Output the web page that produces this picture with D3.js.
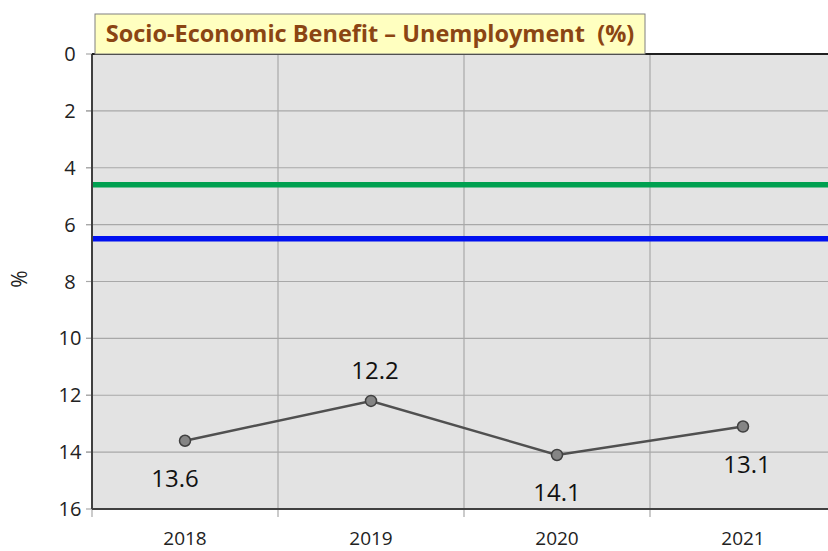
<!DOCTYPE html>
<html>
<head>
<meta charset="utf-8">
<script src="https://cdn.jsdelivr.net/npm/d3@7"></script>
<style>
  body { margin: 0; background: #fff; }
  text { font-family: "Open Sans", sans-serif; }
</style>
</head>
<body>
<div id="chart"></div>
<script>
// данные
const years = ['2018', '2019', '2020', '2021']
const unemployment = [13.6, 12.2, 14.1, 13.1]
const greenLevel = 4.6
const blueLevel = 6.5
const yTicks = [0, 2, 4, 6, 8, 10, 12, 14, 16]
// позиция подписи: ниже или выше точки
const labelPos = ['below', 'above', 'below', 'below']

const W = 828, H = 551
const mLeft = 92, mTop = 54, mBottom = 509, mRight = 836

let svg = d3.select('#chart').append('svg')
  .attr('width', W).attr('height', H)

let x = d3.scaleBand().domain(years).range([mLeft, mRight])
let y = d3.scaleLinear().domain([0, 16]).range([mTop, mBottom])

// фон
svg.append('rect')
  .attr('x', mLeft).attr('y', mTop)
  .attr('width', mRight - mLeft).attr('height', mBottom - mTop)
  .attr('fill', '#e3e3e3')

// сетка
svg.append('g').selectAll('line').data(yTicks.slice(1, -1)).join('line')
  .attr('x1', mLeft - 6).attr('x2', mRight)
  .attr('y1', d => y(d)).attr('y2', d => y(d))
  .attr('stroke', '#a8a8a8').attr('stroke-width', 1.2)

svg.append('g').selectAll('line').data(years.slice(1)).join('line')
  .attr('x1', d => x(d)).attr('x2', d => x(d))
  .attr('y1', mTop).attr('y2', mBottom + 8)
  .attr('stroke', '#a8a8a8').attr('stroke-width', 1.2)

// риски на осях
svg.append('g').selectAll('line').data(yTicks).join('line')
  .attr('x1', mLeft - 6).attr('x2', mLeft)
  .attr('y1', d => y(d)).attr('y2', d => y(d))
  .attr('stroke', '#a8a8a8').attr('stroke-width', 1.2)
svg.append('line')
  .attr('x1', mLeft).attr('x2', mLeft).attr('y1', mBottom).attr('y2', mBottom + 8)
  .attr('stroke', '#a8a8a8').attr('stroke-width', 1.2)

// горизонтальные уровни
svg.append('line')
  .attr('x1', mLeft).attr('x2', mRight)
  .attr('y1', y(greenLevel)).attr('y2', y(greenLevel))
  .attr('stroke', '#00a050').attr('stroke-width', 5.5)
svg.append('line')
  .attr('x1', mLeft).attr('x2', mRight)
  .attr('y1', y(blueLevel)).attr('y2', y(blueLevel))
  .attr('stroke', '#0010f0').attr('stroke-width', 5.5)

// оси
svg.append('line')
  .attr('x1', mLeft).attr('x2', mLeft).attr('y1', mTop).attr('y2', mBottom)
  .attr('stroke', '#404040').attr('stroke-width', 2)
svg.append('line')
  .attr('x1', mLeft).attr('x2', mRight).attr('y1', mBottom).attr('y2', mBottom)
  .attr('stroke', '#404040').attr('stroke-width', 2)
svg.append('line')
  .attr('x1', mLeft).attr('x2', mRight).attr('y1', mTop).attr('y2', mTop)
  .attr('stroke', '#202020').attr('stroke-width', 2)

// подписи оси Y
svg.append('g').selectAll('text').data(yTicks).join('text')
  .attr('x', 70).attr('y', d => y(d) + 7)
  .attr('text-anchor', 'middle')
  .attr('font-size', 20).attr('fill', '#222')
  .text(d => d)

// подписи оси X
svg.append('g').selectAll('text').data(years).join('text')
  .attr('x', d => x(d) + x.bandwidth() / 2).attr('y', 545)
  .attr('text-anchor', 'middle')
  .attr('font-size', 19).attr('fill', '#222')
  .text(d => d)

svg.append('text')
  .attr('transform', 'translate(27,279) rotate(-90)')
  .attr('text-anchor', 'middle')
  .attr('font-size', 21).attr('fill', '#222')
  .text('%')

// линия данных
let line = d3.line()
  .x((d, i) => x(years[i]) + x.bandwidth() / 2)
  .y(d => y(d))

svg.append('path')
  .datum(unemployment)
  .attr('d', line)
  .attr('fill', 'none')
  .attr('stroke', '#505050').attr('stroke-width', 2.5)

svg.append('g').selectAll('circle').data(unemployment).join('circle')
  .attr('cx', (d, i) => x(years[i]) + x.bandwidth() / 2)
  .attr('cy', d => y(d))
  .attr('r', 5.5)
  .attr('fill', '#858585').attr('stroke', '#404040').attr('stroke-width', 1.5)

svg.append('g').selectAll('text').data(unemployment).join('text')
  .attr('x', (d, i) => x(years[i]) + x.bandwidth() / 2 + (i == 0 ? -10 : i == 2 ? 0 : 4))
  .attr('y', (d, i) => labelPos[i] == 'above' ? y(d) - 22 : y(d) + 46)
  .attr('text-anchor', 'middle')
  .attr('font-size', 24).attr('fill', '#111')
  .text(d => d.toFixed(1))

// заголовок
let title = svg.append('g')
title.append('rect')
  .attr('x', 95).attr('y', 14).attr('width', 550).attr('height', 40)
  .attr('fill', '#ffffc0').attr('stroke', '#808080').attr('stroke-width', 1)
title.append('text')
  .attr('x', 370).attr('y', 42)
  .attr('text-anchor', 'middle')
  .attr('font-size', 23.5).attr('font-weight', 'bold').attr('fill', '#8b4513')
  .attr('xml:space', 'preserve')
  .text('Socio-Economic Benefit \u2013 Unemployment  (%)')
</script>
</body>
</html>
